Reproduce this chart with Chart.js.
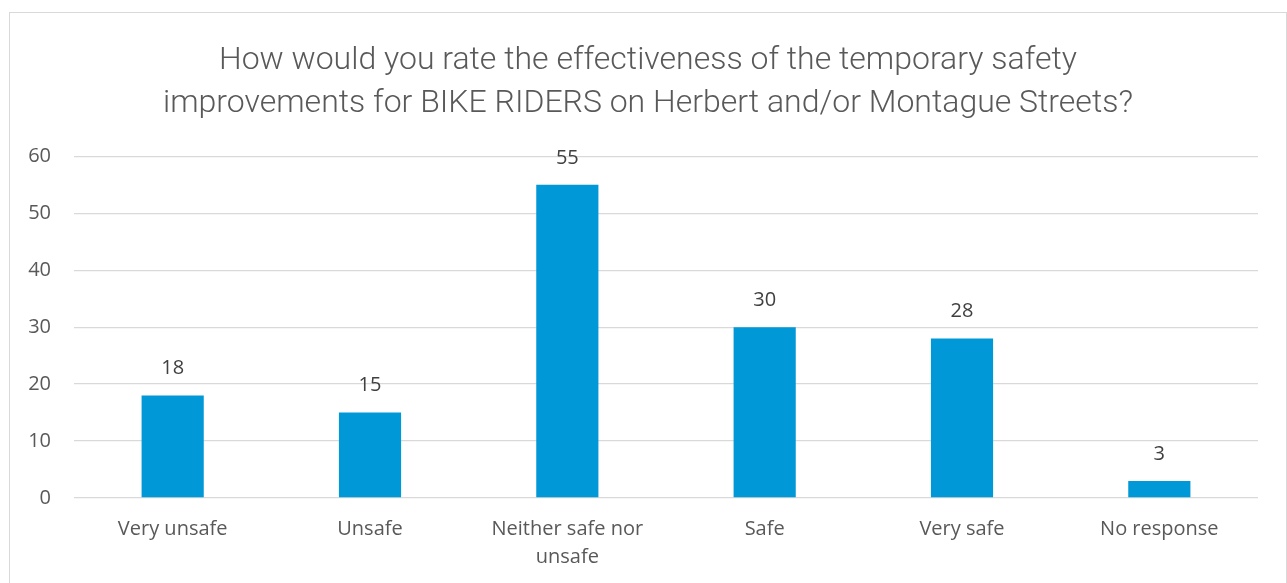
<!DOCTYPE html>
<html>
<head>
<meta charset="utf-8">
<script src="https://cdn.jsdelivr.net/npm/chart.js@4"></script>
<style>
    html, body { margin: 0; padding: 0; background: #ffffff; overflow: hidden; }
    #frame {
        position: absolute;
        left: 9px;
        top: 12px;
        width: 1276px;
        height: 580px;
        border: 1px solid #d9d9d9;
        background: #ffffff;
        overflow: hidden;
    }
    #chart { display: block; }
</style>
</head>
<body>
<div id="frame">
    <canvas id="chart" width="1276" height="588"></canvas>
</div>
<script>
// カテゴリと値
const categories = ['Very unsafe', 'Unsafe', ['Neither safe nor', 'unsafe'], 'Safe', 'Very safe', 'No response'];
const responses  = [18, 15, 55, 30, 28, 3];
const yTicks     = [0, 10, 20, 30, 40, 50, 60];

const titleLines = [
    'How would you rate the effectiveness of the temporary safety',
    'improvements for BIKE RIDERS on Herbert and/or Montague Streets?'
];

// 棒の上に数値を描く
const valueLabels = {
    id: 'valueLabels',
    afterDatasetsDraw(chart) {
        const ctx  = chart.ctx;
        const meta = chart.getDatasetMeta(0);
        ctx.save();
        ctx.font = '20px "Open Sans"';
        ctx.fillStyle = '#404040';
        ctx.textAlign = 'center';
        ctx.textBaseline = 'middle';
        meta.data.forEach(function(bar, i) {
            ctx.fillText(String(responses[i]), bar.x, bar.y - 27);
        });
        ctx.restore();
    }
};

const ctx = document.getElementById('chart').getContext('2d');
new Chart(ctx, {
    type: 'bar',
    data: {
        labels: categories,
        datasets: [{
            data: responses,
            backgroundColor: '#0098d6',
            barPercentage: 0.315,
            categoryPercentage: 1.0
        }]
    },
    options: {
        responsive: false,
        animation: false,
        layout: {
            padding: { left: 0, right: 0, top: 0, bottom: 13 }
        },
        plugins: {
            legend: { display: false },
            tooltip: { enabled: false },
            title: {
                display: true,
                text: titleLines,
                color: '#595959',
                font: { family: 'Roboto', size: 32, weight: 300, lineHeight: 1.35 },
                padding: { top: 26, bottom: 31 }
            }
        },
        scales: {
            x: {
                grid: { display: false, drawTicks: false },
                border: { display: false },
                ticks: {
                    color: '#595959',
                    font: { family: 'Open Sans', size: 20, lineHeight: 1.4 },
                    padding: 17,
                    maxRotation: 0,
                    autoSkip: false
                }
            },
            y: {
                min: 0,
                max: 60,
                afterFit: function(scale) { scale.width = 64; },
                afterBuildTicks: function(scale) {
                    scale.ticks = yTicks.map(function(v) { return { value: v }; });
                },
                grid: { color: '#d9d9d9', lineWidth: 1.3, drawTicks: false },
                border: { display: false },
                ticks: {
                    color: '#595959',
                    font: { family: 'Open Sans', size: 20 },
                    padding: 23
                }
            },
            // 右側の余白用の空の軸
            yRight: {
                position: 'right',
                afterFit: function(scale) { scale.width = 28; },
                grid: { display: false, drawTicks: false },
                border: { display: false },
                ticks: { display: false }
            }
        }
    },
    plugins: [valueLabels]
});
</script>
</body>
</html>
